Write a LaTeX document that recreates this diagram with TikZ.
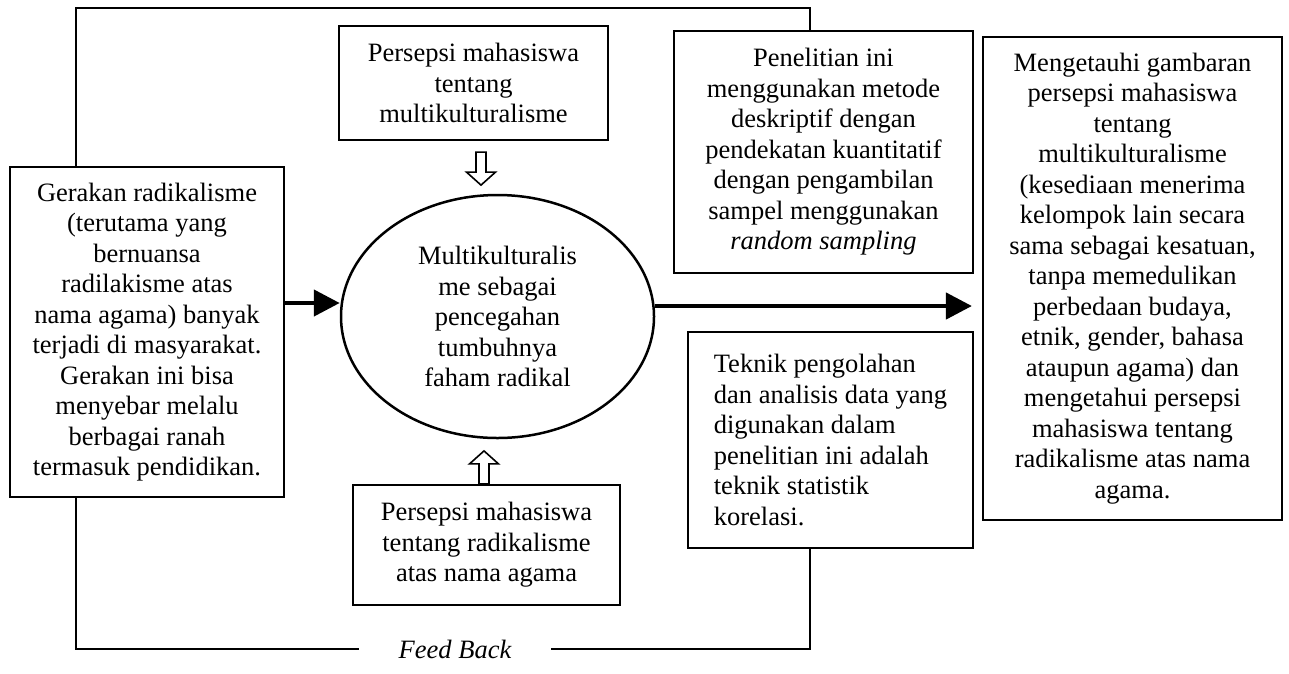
\documentclass[tikz,border=0pt]{standalone}
\usepackage{fontspec}
\setmainfont{Liberation Serif}
\usetikzlibrary{calc,positioning,shapes.geometric,arrows.meta}

\begin{document}
\begin{tikzpicture}[x=1pt,y=-1pt,
	every node/.style={font=\fontsize{26.5}{30.5}\selectfont},
	box/.style={draw, line width=2.2pt, align=center, inner sep=0pt},
	fbline/.style={line width=1.6pt},
	bigarrow/.style={line width=4.5pt, -{Triangle[length=26pt,width=26pt]}},
	blockdown/.pic={\draw[line width=1.6pt, fill=white] (-5,0) -- (-5,20) -- (-14.5,20) -- (0,33) -- (14.5,20) -- (5,20) -- (5,0) -- cycle;}]
	\useasboundingbox (0,0) rectangle (1289,673);

	% boxes
	\node[box, minimum width=274pt, minimum height=330pt] (gerakan) at (147,332)
		{Gerakan radikalisme\\(terutama yang\\bernuansa\\radilakisme atas\\nama agama) banyak\\terjadi di masyarakat.\\Gerakan ini bisa\\menyebar melalu\\berbagai ranah\\termasuk pendidikan.};
	\node[box, minimum width=269pt, minimum height=114pt] (pTop) at (473.5,83)
		{Persepsi mahasiswa\\tentang\\multikulturalisme};
	\node[draw, ellipse, line width=2.5pt, align=center, inner sep=0pt, minimum width=313pt, minimum height=243pt] (ell) at (497.5,316.5)
		{Multikulturalis\\me sebagai\\pencegahan\\tumbuhnya\\faham radikal};
	\node[box, minimum width=267pt, minimum height=120pt] (pBot) at (486.5,545)
		{Persepsi mahasiswa\\tentang radikalisme\\atas nama agama};
	\node[box, minimum width=299pt, minimum height=242pt] (penelitian) at (823.5,152)
		{Penelitian ini\\menggunakan metode\\deskriptif dengan\\pendekatan kuantitatif\\dengan pengambilan\\sampel menggunakan\\\textit{random sampling}};
	\node[box, align=left, minimum width=285pt, minimum height=216pt] (teknik) at (830.5,440)
		{Teknik pengolahan\\dan analisis data yang\\digunakan dalam\\penelitian ini adalah\\teknik statistik\\korelasi.};
	\node[box, minimum width=299pt, minimum height=483pt] (tujuan) at (1132.5,278.5)
		{Mengetauhi gambaran\\persepsi mahasiswa\\tentang\\multikulturalisme\\(kesediaan menerima\\kelompok lain secara\\sama sebagai kesatuan,\\tanpa memedulikan\\perbedaan budaya,\\etnik, gender, bahasa\\ataupun agama) dan\\mengetahui persepsi\\mahasiswa tentang\\radikalisme atas nama\\agama.};

	% arrows
	\coordinate (inL) at ([yshift=29pt]gerakan.east);
	\draw[bigarrow] (inL) -- (inL -| ell.west);
	\coordinate (outR) at ([yshift=10.5pt]ell.east);
	\draw[bigarrow, shorten >=10pt] (outR) -- (outR -| tujuan.west);
	\pic at ($(pTop.south)+(7.5,11)$) {blockdown};
	\pic[rotate=180] at ($(pBot.north)+(-2.5,0)$) {blockdown};

	% feed back
	\coordinate (fbTL) at (76,8);
	\coordinate (fbTR) at (810,8);
	\node[font=\fontsize{26.5}{30.5}\selectfont\itshape, inner xsep=40pt, inner ysep=0pt] (fb) at (455,649) {Feed Back};
	\draw[fbline] (gerakan.north -| fbTL) -- (fbTL) -- (fbTR) -- (penelitian.north -| fbTR);
	\draw[fbline] (teknik.south -| fbTR) |- (fb.east);
	\draw[fbline] (fb.west) -| (gerakan.south -| fbTL);
\end{tikzpicture}
\end{document}
